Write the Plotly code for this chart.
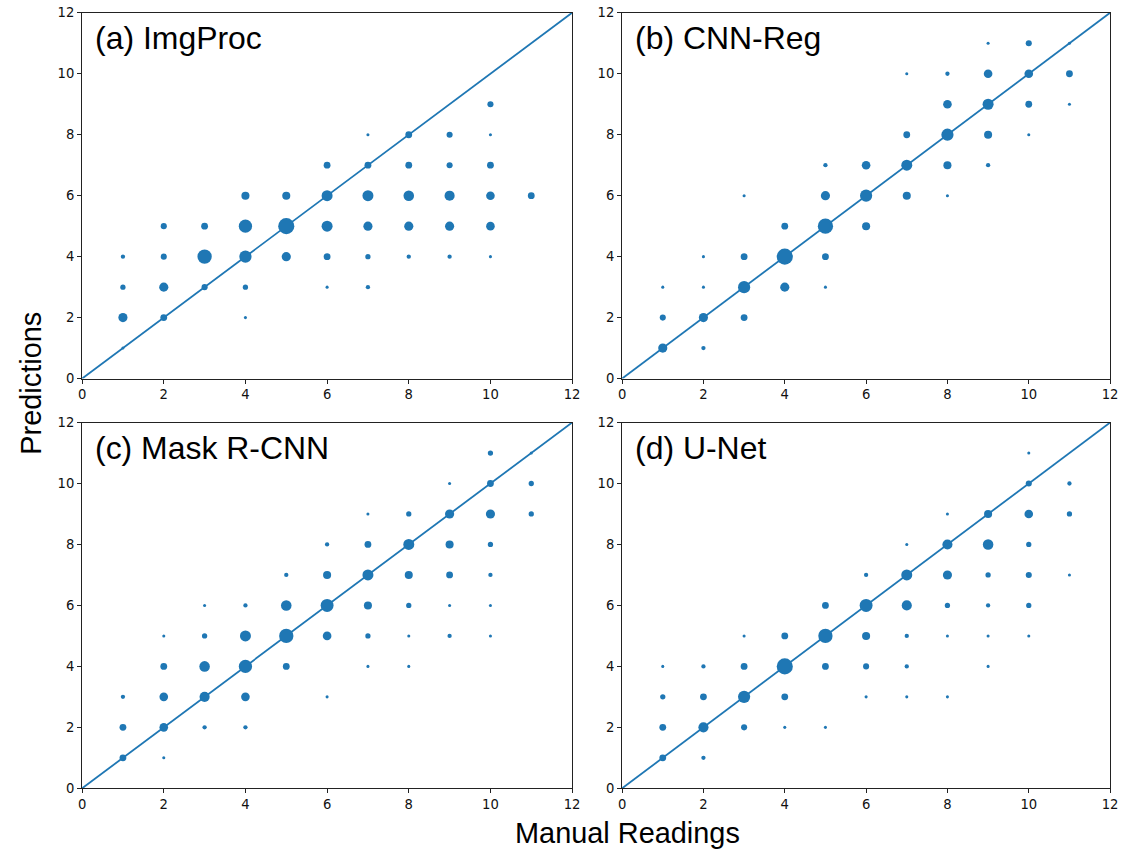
import numpy as np
import plotly.graph_objects as go

# ---- data: (manual reading, prediction, count) per panel ----
a_x = [1,1,1,1, 2,2,2,2, 3,3,3, 4,4,4,4,4, 5,5,5, 6,6,6,6,6, 7,7,7,7,7,7, 8,8,8,8,8, 9,9,9,9,9, 10,10,10,10,10,10, 11]
a_y = [1,2,3,4, 2,3,4,5, 3,4,5, 2,3,4,5,6, 4,5,6, 3,4,5,6,7, 3,4,5,6,7,8, 4,5,6,7,8, 4,5,6,7,8, 4,5,6,7,8,9, 6]
a_n = [1,9,3,2, 5,9,4,4, 4,22,5, 1,3,16,19,7, 9,28,7, 1,5,13,13,5, 2,3,9,13,5,1, 2,9,12,5,5, 2,9,11,4,4, 1,8,8,5,1,4, 5]

b_x = [1,1,1, 2,2,2,2, 3,3,3,3, 4,4,4, 5,5,5,5,5, 6,6,6, 7,7,7,7, 8,8,8,8,8, 9,9,9,9,9, 10,10,10,10, 11,11,11]
b_y = [1,2,3, 1,2,3,4, 2,3,4,6, 3,4,5, 3,4,5,6,7, 5,6,7, 6,7,8,10, 6,7,8,9,10, 7,8,9,10,11, 8,9,10,11, 9,10,11]
b_n = [9,4,1, 2,9,1,1, 5,16,5,1, 9,28,5, 1,5,25,9,2, 7,16,8, 7,13,5,1, 1,7,16,8,2, 2,7,13,8,1, 1,5,8,4, 1,5,1]

c_x = [1,1,1, 2,2,2,2,2, 3,3,3,3,3, 4,4,4,4,4, 5,5,5,5, 6,6,6,6,6, 7,7,7,7,7,7, 8,8,8,8,8,8, 9,9,9,9,9,9, 10,10,10,10,10,10,10, 11,11,11]
c_y = [1,2,3, 1,2,3,4,5, 2,3,4,5,6, 2,3,4,5,6, 4,5,6,7, 3,5,6,7,8, 4,5,6,7,8,9, 4,5,6,7,8,9, 5,6,7,8,9,10, 5,6,7,8,9,10,11, 9,10,11]
c_n = [5,5,2, 1,8,8,5,1, 2,11,12,3,1, 2,8,19,13,2, 5,22,12,2, 1,8,18,7,2, 1,3,7,13,5,1, 1,1,3,7,13,3, 2,1,5,7,9,1, 1,1,2,3,9,5,3, 3,3,1]

d_x = [1,1,1,1, 2,2,2,2, 3,3,3,3, 4,4,4,4, 5,5,5,5, 6,6,6,6,6, 7,7,7,7,7,7, 8,8,8,8,8,8, 9,9,9,9,9,9, 10,10,10,10,10,10,10, 11,11,11]
d_y = [1,2,3,4, 1,2,3,4, 2,3,4,5, 2,3,4,5, 2,4,5,6, 3,4,5,6,7, 3,4,5,6,7,8, 3,5,6,7,8,9, 4,5,6,7,8,9, 5,6,7,8,9,10,11, 7,9,10]
d_n = [5,5,3,1, 2,11,5,2, 4,16,5,1, 1,5,28,5, 1,5,22,5, 1,4,7,18,2, 1,2,2,11,13,1, 1,1,3,9,11,1, 1,1,2,3,12,7, 1,3,4,3,8,4,1, 1,3,2]

panels = [
    ("(a) ImgProc", a_x, a_y, a_n),
    ("(b) CNN-Reg", b_x, b_y, b_n),
    ("(c) Mask R-CNN", c_x, c_y, c_n),
    ("(d) U-Net", d_x, d_y, d_n),
]
tick_vals = [0, 2, 4, 6, 8, 10, 12]
diag = [0, 12]

W, H = 1122, 852
BLUE = "#1f77b4"

# compensation for the capture's slight rescale
SX, OX, SY, OY = 0.9893, 3.9, 0.983, 6.2
def PX(p):  # target screen x pixel -> paper fraction
    return ((p - OX) / SX) / W
def PY(p):  # target screen y pixel (from top) -> paper fraction (from bottom)
    return 1 - ((p - OY) / SY) / H
FS = 1 / 0.986

xdoms = [[PX(82), PX(572)], [PX(622), PX(1110)]]
ydoms = [[PY(378), PY(12)], [PY(788), PY(422)]]
title_x = [93, 633]
title_y = [37, 447]

fig = go.Figure()
layout = {}
for i, (title, xs, ys, ns) in enumerate(panels):
    r, c = divmod(i, 2)
    k = "" if i == 0 else str(i + 1)
    xa, ya = "x" + k, "y" + k
    fig.add_trace(go.Scatter(x=diag, y=diag, mode="lines", xaxis=xa, yaxis=ya,
                             line=dict(color=BLUE, width=1.8), showlegend=False,
                             hoverinfo="skip"))
    fig.add_trace(go.Scatter(x=xs, y=ys, mode="markers", xaxis=xa, yaxis=ya,
                             marker=dict(color=BLUE, size=3.05 * np.sqrt(np.array(ns)),
                                         sizemode="diameter", line=dict(width=0), opacity=1),
                             showlegend=False))
    axcommon = dict(range=[0, 12], tickvals=tick_vals, ticks="outside", ticklen=4,
                    tickwidth=1, tickcolor="#222", showline=True, linecolor="#222",
                    linewidth=1.2, mirror=True, showgrid=False, zeroline=False,
                    tickfont=dict(family="DejaVu Sans", size=13 * FS, color="#111"))
    layout["xaxis" + k] = dict(domain=xdoms[c], anchor=ya, **axcommon)
    layout["yaxis" + k] = dict(domain=ydoms[r], anchor=xa, **axcommon)
    fig.add_annotation(text=title, xref="paper", yref="paper",
                       x=PX(title_x[c]), y=PY(title_y[r]),
                       xanchor="left", yanchor="middle", showarrow=False,
                       font=dict(family="Liberation Sans", size=31.5 * FS, color="#000"))

fig.add_annotation(text="Predictions", xref="paper", yref="paper", x=PX(30), y=PY(383),
                   textangle=-90, showarrow=False, xanchor="center", yanchor="middle",
                   font=dict(family="Liberation Sans", size=28.5 * FS, color="#000"))
fig.add_annotation(text="Manual Readings", xref="paper", yref="paper", x=PX(627), y=PY(833),
                   showarrow=False, xanchor="center", yanchor="middle",
                   font=dict(family="Liberation Sans", size=28.5 * FS, color="#000"))

fig.update_layout(width=W, height=H, margin=dict(l=0, r=0, t=0, b=0),
                  plot_bgcolor="white", paper_bgcolor="white", **layout)
fig.write_html("out.html", config={"displayModeBar": False},
               post_script="document.body.style.margin='0';document.body.style.overflow='hidden';")
